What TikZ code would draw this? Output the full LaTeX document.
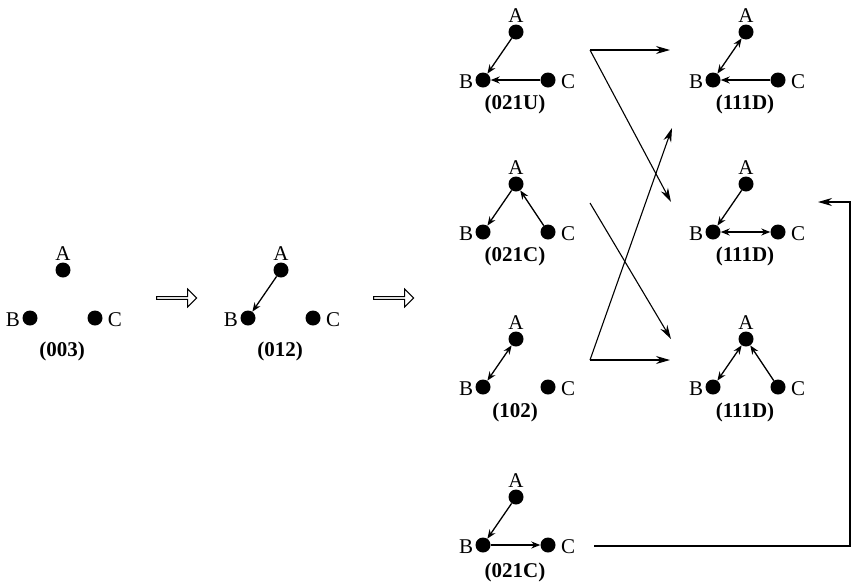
\documentclass[tikz,border=0pt]{standalone}
\usepackage{fontspec}
\setmainfont{Liberation Serif}
\usetikzlibrary{arrows.meta,shapes.arrows}
\tikzset{
  dot/.style={circle,fill=black,inner sep=0pt,minimum size=15pt},
  lbl/.style={font=\fontsize{21}{24}\selectfont,inner sep=0pt},
  captext/.style={font=\fontsize{21}{24}\selectfont\bfseries,inner sep=0pt},
  edge/.style={line width=1.3pt,-{Stealth[length=9pt,width=7pt]}},
  bedge/.style={line width=1.3pt,{Stealth[length=9pt,width=7pt]}-{Stealth[length=9pt,width=7pt]}},
  conn/.style={line width=1.1pt,-{Stealth[length=14pt,width=8pt]}},
  hollow/.style={draw,line width=1pt,single arrow,minimum height=40pt,minimum width=18pt,single arrow head extend=3pt,inner sep=0pt}
}
\newcommand{\mytriad}[5]{%
  \node[dot] (#1A) at (#2,#3) {};
  \node[dot] (#1B) at (#2-33,#3+48) {};
  \node[dot] (#1C) at (#2+32,#3+48) {};
  \node[lbl] at (#2,#3-16) {A};
  \node[lbl] at (#2-50,#3+50) {B};
  \node[lbl] at (#2+52,#3+50) {C};
  \node[captext] at (#2-1,#3+#5) {#4};
}
\begin{document}
\begin{tikzpicture}[x=1pt,y=-1pt]
\useasboundingbox (0,0) rectangle (854,587);
\mytriad{a}{63}{270}{(003)}{81}
\mytriad{b}{281}{270}{(012)}{81}
\draw[edge] (bA) -- (bB);
\node[hollow] (h1) at (176,298) {};
\node[hollow] (h2) at (393,298) {};
% left column
\mytriad{c}{516}{32}{(021U)}{72}
\draw[edge] (cA) -- (cB); \draw[edge] (cC) -- (cB);
\mytriad{d}{516}{184}{(021C)}{72}
\draw[edge] (dA) -- (dB); \draw[edge] (dC) -- (dA);
\mytriad{e}{516}{339}{(102)}{73}
\draw[bedge] (eA) -- (eB);
\mytriad{f}{516}{497}{(021C)}{75}
\draw[edge] (fA) -- (fB); \draw[edge] (fB) -- (fC);
% right column
\mytriad{g}{746}{32}{(111D)}{72}
\draw[bedge] (gA) -- (gB); \draw[edge] (gC) -- (gB);
\mytriad{k}{746}{184}{(111D)}{72}
\draw[edge] (kA) -- (kB); \draw[bedge] (kB) -- (kC);
\mytriad{m}{746}{339}{(111D)}{73}
\draw[bedge] (mA) -- (mB); \draw[edge] (mC) -- (mA);
% connectors
\coordinate (p1) at (590,50);
\coordinate (q1) at (670,50);
\coordinate (q2) at (671,202);
\coordinate (p2) at (590,203);
\coordinate (q3) at (671,339);
\coordinate (p3) at (590,360);
\coordinate (q4) at (670,360);
\coordinate (q5) at (672,128);
\coordinate (r0) at (594,546);
\coordinate (r1) at (850,546);
\coordinate (r2) at (850,202);
\coordinate (r3) at (818,202);
\draw[conn] (p1) -- (q1);
\draw[conn] (p1) -- (q2);
\draw[conn] (p2) -- (q3);
\draw[conn] (p3) -- (q4);
\draw[conn] (p3) -- (q5);
\draw[conn] (r0) -- (r1) -- (r2) -- (r3);
\end{tikzpicture}
\end{document}
